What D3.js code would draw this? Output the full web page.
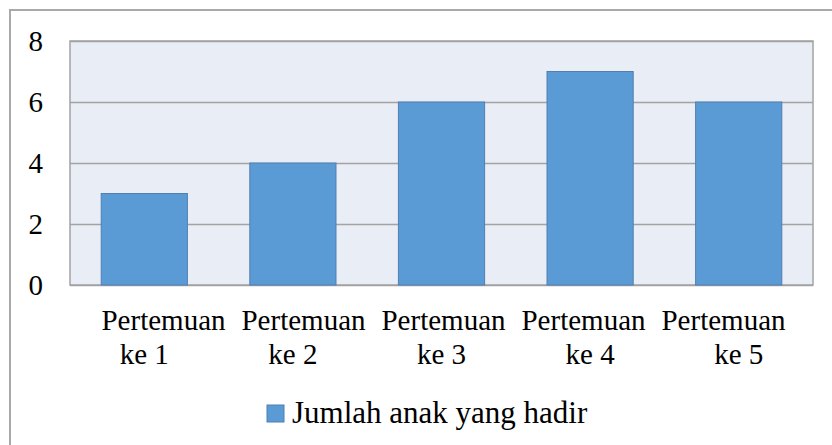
<!DOCTYPE html>
<html>
<head>
<meta charset="utf-8">
<script src="https://cdn.jsdelivr.net/npm/d3@7"></script>
<style>
  body { margin: 0; background: #fff; }
</style>
</head>
<body>
<div id="chart"></div>
<script>
// data
const categories = ["Pertemuan ke 1", "Pertemuan ke 2", "Pertemuan ke 3", "Pertemuan ke 4", "Pertemuan ke 5"];
const values = [3, 4, 6, 7, 6];
const yTicks = [0, 2, 4, 6, 8];
const seriesName = "Jumlah anak yang hadir";

const W = 832, H = 445;
const plot = { left: 70, right: 813, top: 41, bottom: 285 };
const FONT = "'Liberation Serif', 'Times New Roman', serif";

const svg = d3.select("#chart").append("svg")
    .attr("width", W)
    .attr("height", H);

// outer chart frame (cut off at right/bottom like the original)
svg.append("rect")
    .attr("x", 10).attr("y", 10)
    .attr("width", W).attr("height", H)
    .attr("fill", "#fff")
    .attr("stroke", "#a9a9a9")
    .attr("stroke-width", 2);

const x = d3.scaleBand()
    .domain(categories)
    .range([plot.left, plot.right])
    .paddingInner(0.42)
    .paddingOuter(0.21);

const y = d3.scaleLinear()
    .domain([0, 8])
    .range([plot.bottom, plot.top]);

// plot background
svg.append("rect")
    .attr("x", plot.left).attr("y", plot.top)
    .attr("width", plot.right - plot.left)
    .attr("height", plot.bottom - plot.top)
    .attr("fill", "#e9edf6");

// y axis + gridlines
const yAxis = svg.append("g")
    .attr("transform", `translate(${plot.left},0)`)
    .call(d3.axisLeft(y).tickValues(yTicks).tickSize(-(plot.right - plot.left)).tickPadding(27));

yAxis.select(".domain").remove();
yAxis.selectAll(".tick line")
    .attr("stroke", "#a3a3a3")
    .attr("stroke-width", 1.5);
yAxis.selectAll(".tick text")
    .attr("fill", "#000")
    .attr("dy", "0.33em")
    .style("font-family", FONT)
    .style("font-size", "29px");

// plot border
svg.append("rect")
    .attr("x", plot.left).attr("y", plot.top)
    .attr("width", plot.right - plot.left)
    .attr("height", plot.bottom - plot.top)
    .attr("fill", "none")
    .attr("stroke", "#a3a3a3")
    .attr("stroke-width", 1.5);

// bars
svg.selectAll(".bar")
    .data(values)
    .enter()
    .append("rect")
    .attr("class", "bar")
    .attr("x", (d, i) => x(categories[i]))
    .attr("y", d => y(d))
    .attr("width", x.bandwidth())
    .attr("height", d => y(0) - y(d))
    .attr("fill", "#5b9bd5")
    .attr("stroke", "#4f7fb3")
    .attr("stroke-width", 1);

// x labels: first line sits on a slightly narrower spacing than the categories
const x1 = d3.scalePoint()
    .domain(categories)
    .range([163.5, 723.5]);

const labels = svg.append("g").attr("class", "x-labels");

categories.forEach(c => {
    const parts = c.split(" ");
    labels.append("text")
        .attr("x", x1(c))
        .attr("y", 330)
        .attr("text-anchor", "middle")
        .style("font-family", FONT)
        .style("font-size", "29px")
        .text(parts[0]);
    labels.append("text")
        .attr("x", x(c) + x.bandwidth() / 2)
        .attr("y", 364)
        .attr("text-anchor", "middle")
        .style("font-family", FONT)
        .style("font-size", "29px")
        .text(parts.slice(1).join(" "));
});

// legend
const legend = svg.append("g").attr("transform", "translate(267,405)");
legend.append("rect")
    .attr("width", 17).attr("height", 17)
    .attr("fill", "#5b9bd5")
    .attr("stroke", "#4f7fb3");
legend.append("text")
    .attr("x", 25)
    .attr("y", 18)
    .style("font-family", FONT)
    .style("font-size", "31px")
    .text(seriesName);
</script>
</body>
</html>
